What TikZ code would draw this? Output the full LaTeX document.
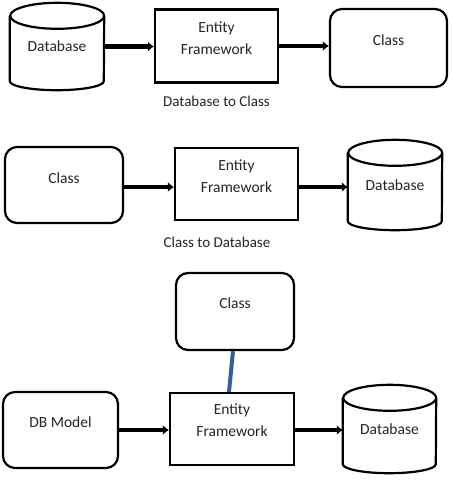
\documentclass[tikz,border=0pt]{standalone}
\usepackage{fontspec}
\setmainfont{Carlito}
\usetikzlibrary{arrows.meta,calc}
\newcommand\mylift[2]{\raisebox{#1}[\height][\depth]{#2}}
\newcommand\efstack{\begin{tabular}{@{}c@{}}Entity\\Framework\end{tabular}}
\newcommand\mycyl[1]{%
  \draw[cylline] ($(#1.north west)+(0,-13)$) -- ($(#1.south west)+(0,9)$)
    arc[start angle=180,end angle=360,x radius=\cylrx,y radius=9]
    -- ($(#1.north east)+(0,-13)$)
    arc[start angle=0,end angle=180,x radius=\cylrx,y radius=13]
    arc[start angle=180,end angle=360,x radius=\cylrx,y radius=13];}
\begin{document}
\begin{tikzpicture}[x=1pt,y=1pt,
  every node/.style={font=\fontsize{15.5}{22}\selectfont, text=black!85},
  box/.style={draw=black, line width=2.2pt, inner sep=0pt},
  efbox/.style={box, minimum width=123pt, minimum height=73pt},
  rbox/.style={box, rounded corners=12pt},
  cylnode/.style={inner sep=0pt, minimum width=94pt},
  cylline/.style={draw=black, line width=2.2pt, line join=round},
  flow/.style={line width=4.2pt, -{Latex[length=6pt,width=10pt]}},
  link/.style={line width=4pt, draw={rgb,255:red,52;green,96;blue,150}},
  caption/.style={font=\fontsize{15}{18}\selectfont}]
\useasboundingbox[fill=white] (0,0) rectangle (452,-480);

% ---- row 1 : Database to Class
\node[cylnode, minimum height=87pt] (db1) at (57,-46.5) {Database};
\def\cylrx{47}\mycyl{db1}
\node[efbox] (ef1) at (216.5,-46) {\mylift{7pt}{\efstack}};
\node[rbox, minimum width=117pt, minimum height=78pt] (cl1) at (388.5,-48) {\mylift{8pt}{Class}};
\draw[flow] (db1.east) -- (db1.east -| ef1.west);
\draw[flow] (ef1.east) -- (ef1.east -| cl1.west);
\node[caption] (cap1) at (216.5,-101) {Database to Class};

% ---- row 2 : Class to Database
\node[rbox, minimum width=118pt, minimum height=76pt] (cl2) at (64,-185) {\mylift{7pt}{Class}};
\node[efbox, minimum height=72pt] (ef2) at (236.5,-184) {\mylift{6.5pt}{\efstack}};
\node[cylnode, minimum height=90pt] (db2) at (395,-185) {Database};
\def\cylrx{47}\mycyl{db2}
\draw[flow] ($(cl2.east)+(0,-2)$) -- ($(cl2.east -| ef2.west)+(0,-2)$);
\draw[flow] ($(ef2.east)+(0,-3)$) -- ($(ef2.east -| db2.west)+(0,-3)$);
\node[caption] (cap2) at (217,-242) {Class to Database};

% ---- row 3 : DB Model
\node[rbox, minimum width=118pt, minimum height=77pt] (cl3) at (235,-311.5) {\mylift{8pt}{Class}};
\node[rbox, minimum width=115pt, minimum height=76pt] (dbm) at (60.5,-430) {\mylift{8pt}{DB Model}};
\node[efbox, minimum width=124pt, minimum height=72pt] (ef3) at (232,-429) {\mylift{8pt}{\efstack}};
\node[cylnode, minimum width=93pt, minimum height=88pt] (db3) at (389.5,-429) {Database};
\def\cylrx{46.5}\mycyl{db3}
\draw[flow] (dbm.east) -- (dbm.east -| ef3.west);
\draw[flow] ($(ef3.east)+(0,-1)$) -- ($(ef3.east -| db3.west)+(0,-1)$);
\draw[link] ($(cl3.south)+(-2,0)$) -- ($(ef3.north)+(-3,0)$);
\end{tikzpicture}
\end{document}
